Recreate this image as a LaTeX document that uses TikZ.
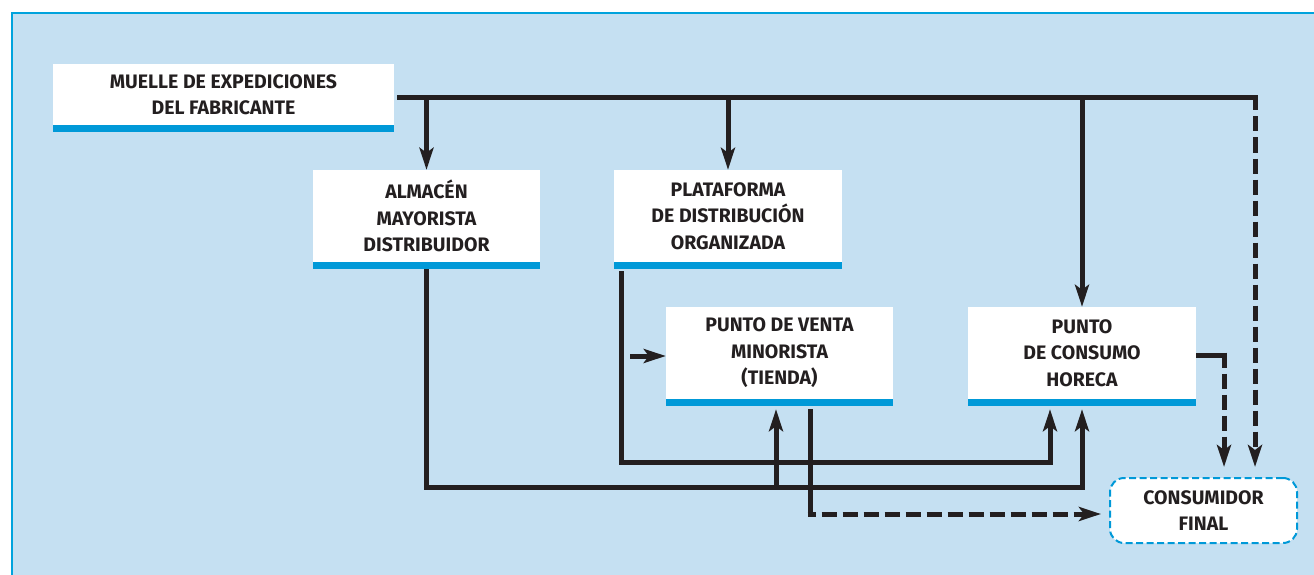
\documentclass[tikz,border=0pt]{standalone}
\usepackage{fontspec}
\setmainfont{Fira Sans}
\usetikzlibrary{arrows.meta,calc}
\definecolor{bgblue}{RGB}{197,224,242}
\definecolor{barblue}{RGB}{0,153,216}
\definecolor{edgeblue}{RGB}{0,163,221}
\definecolor{ink}{RGB}{35,31,32}
\begin{document}
\begin{tikzpicture}[x=1pt,y=-1pt,
  box/.style={fill=white, inner sep=0pt, align=center, text=ink,
    font=\fontsize{19.5}{26.5}\selectfont\bfseries},
  conn/.style={draw=ink, line width=5pt},
  tip/.style={-{Stealth[length=22pt,width=14pt,inset=5pt]}},
  dsh/.style={dash pattern=on 15pt off 6pt},
]
\useasboundingbox (0,0) rectangle (1314,575);
\fill[bgblue] (11,12) rectangle (1314,575);
\draw[edgeblue, line width=2pt] (12,575) -- (12,13) -- (1314,13);

% boxes
\node[box, minimum width=341pt, minimum height=61pt] (muelle) at (223.5,94.5) {MUELLE DE EXPEDICIONES\\DEL FABRICANTE};
\node[box, minimum width=227pt, minimum height=92pt] (alm) at (426.5,216) {ALMACÉN\\MAYORISTA\\DISTRIBUIDOR};
\node[box, minimum width=228pt, minimum height=92pt] (plat) at (728,216) {PLATAFORMA\\DE DISTRIBUCIÓN\\ORGANIZADA};
\node[box, minimum width=227pt, minimum height=92pt] (pv) at (779.5,353) {PUNTO DE VENTA\\MINORISTA\\(TIENDA)};
\node[box, minimum width=228pt, minimum height=92pt] (hor) at (1082,353) {PUNTO\\DE CONSUMO\\HORECA};
\node[box, draw=barblue, line width=2pt, dash pattern=on 7pt off 3.5pt, rounded corners=14pt,
  minimum width=187pt, minimum height=65pt] (cons) at (1203.5,510.5) {CONSUMIDOR\\FINAL};
\foreach \n in {muelle,alm,plat,pv,hor}
  \fill[barblue] (\n.south west) rectangle ([yshift=-7pt]\n.south east);

% top distribution line
\coordinate (m0) at (397,98);
\coordinate (tr) at (1255,98);
\draw[conn] (m0) -- ([xshift=2.5pt]tr);
\draw[conn,tip] (alm.north |- m0) -- (alm.north);
\draw[conn,tip] (plat.north |- m0) -- (plat.north);
\draw[conn,tip] (hor.north |- m0) -- (hor.north);
\draw[conn,dsh,tip,shorten >=10pt] ([yshift=2.5pt]tr) -- (cons.north -| tr);

% from almacen
\coordinate (a0) at ([yshift=-7pt]alm.south);
\coordinate (lowA) at (0,487);
\coordinate (hb) at ([yshift=-10pt]hor.south);
\draw[conn,tip] (a0) -- (a0 |- lowA) -- (hor.south |- lowA) -- (hb);
\coordinate (v0) at (776,487);
\draw[conn,tip] (v0) -- (v0 |- hb);

% from plataforma
\coordinate (p0) at ([xshift=8pt,yshift=-9pt]plat.south west);
\coordinate (lowB) at (0,462);
\coordinate (h2) at ([xshift=-32pt]hb);
\draw[conn,tip] (p0) -- (p0 |- lowB) -- (h2 |- lowB) -- (h2);
\coordinate (s0) at (630,356);
\draw[conn,tip] (s0) -- (pv.west |- s0);

% from punto de venta to consumidor
\coordinate (d0) at (810,409);
\coordinate (d1) at (810,514);
\draw[conn] (d0) -- ([yshift=-2.5pt]d1);
\draw[conn,dsh,dash phase=7pt,tip,shorten >=8pt] ([xshift=-2.5pt]d1) -- (cons.west |- d1);

% from horeca to consumidor
\coordinate (r0) at ([yshift=-2pt]hor.east);
\coordinate (r1) at (1224,355);
\draw[conn] (r0) -- ([xshift=2.5pt]r1);
\draw[conn,dsh,tip,shorten >=10pt] ([yshift=2.5pt]r1) -- (cons.north -| r1);
\end{tikzpicture}
\end{document}
